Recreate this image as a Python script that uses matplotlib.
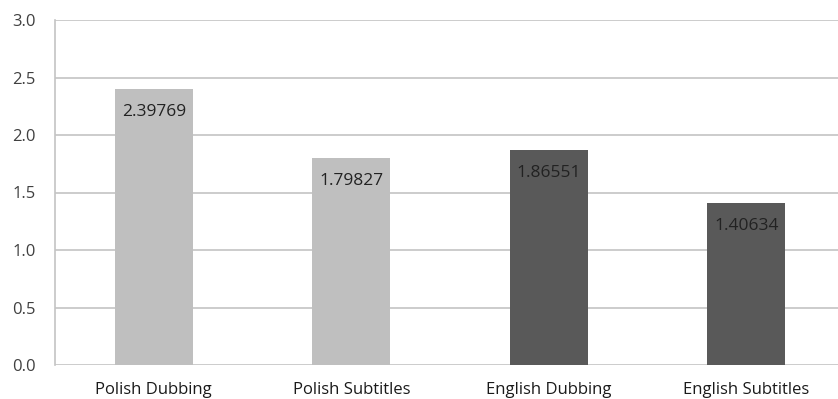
import matplotlib
matplotlib.use("Agg")
import matplotlib.pyplot as plt

categories = ["Polish Dubbing", "Polish Subtitles", "English Dubbing", "English Subtitles"]
values = [2.39769, 1.79827, 1.86551, 1.40634]
bar_colors = ["#bfbfbf", "#bfbfbf", "#595959", "#595959"]
yticks = [0.0, 0.5, 1.0, 1.5, 2.0, 2.5, 3.0]

plt.rcParams["font.family"] = ["Open Sans", "DejaVu Sans"]

W, H = 838, 399
fig = plt.figure(figsize=(W / 100, H / 100), dpi=100)
ax = fig.add_axes([55 / W, (H - 365) / H, (838 - 55) / W, (365 - 20) / H])

x = range(len(categories))
bars = ax.bar(x, values, width=0.395, color=bar_colors, zorder=2)

# value printed just under the top of each bar
for bar, v in zip(bars, values):
    ax.annotate(f"{v:.5f}", xy=(bar.get_x() + bar.get_width() / 2, v),
                xytext=(0, -23), textcoords="offset pixels",
                ha="center", va="center", fontsize=12.5, color="#222222", zorder=3)

ax.set_ylim(0, 3.0)
ax.set_xlim(-0.5, 3.5 - 7 / 197.3)
ax.set_yticks(yticks)
ax.set_yticklabels([f"{t:.1f}" for t in yticks], fontsize=12, color="#404040")
ax.set_xticks(list(x))
ax.set_xticklabels(categories, fontsize=12, color="#1a1a1a")

ax.grid(axis="y", color="#c4c4c4", linewidth=1.2, zorder=0)
for side in ["top", "right", "bottom"]:
    ax.spines[side].set_visible(False)
ax.spines["left"].set_color("#c4c4c4")
ax.spines["left"].set_linewidth(1.2)
ax.tick_params(axis="both", length=0)
ax.tick_params(axis="y", pad=14)
ax.tick_params(axis="x", pad=12)

fig.savefig("out.png", dpi=100)
